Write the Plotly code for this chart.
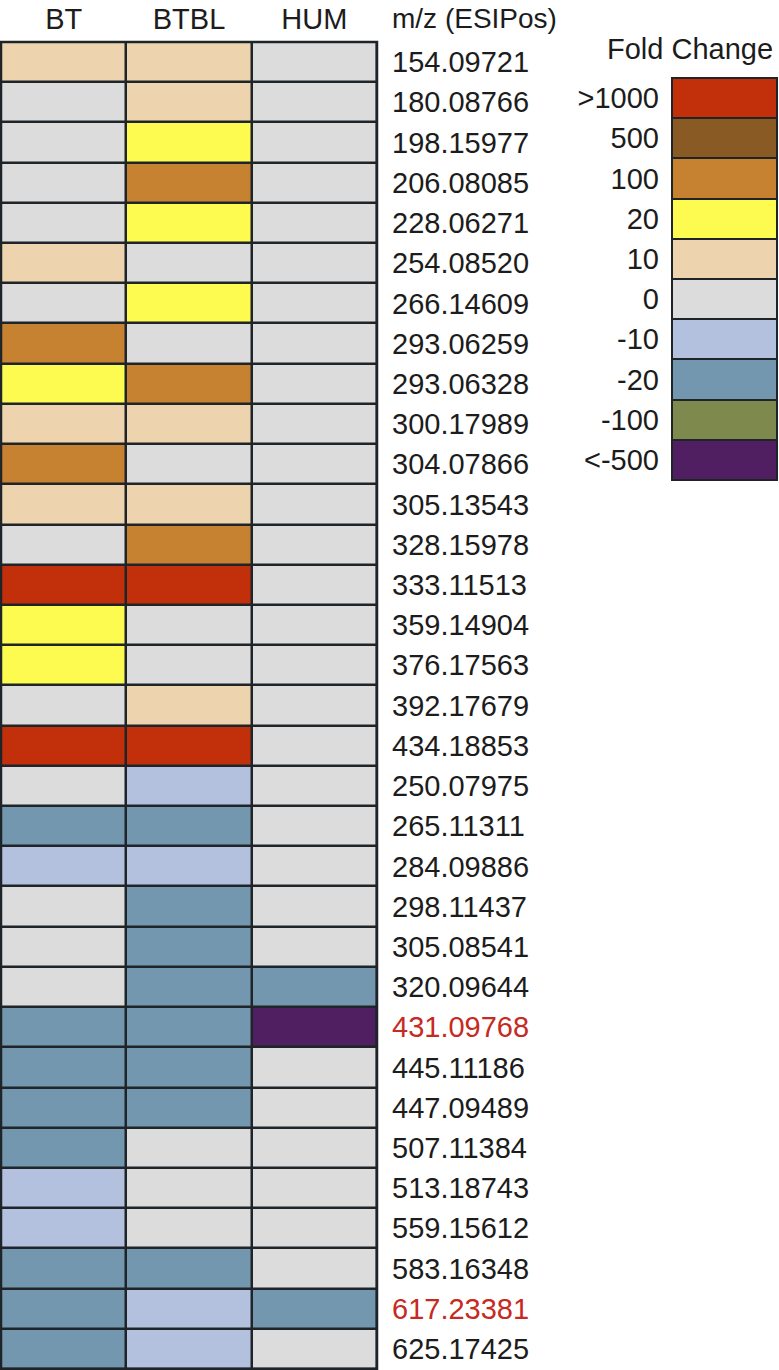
import plotly.graph_objects as go

W, H = 779, 1370

columns = ["BT", "BTBL", "HUM"]

mz_labels = [
    "154.09721", "180.08766", "198.15977", "206.08085", "228.06271", "254.08520",
    "266.14609", "293.06259", "293.06328", "300.17989", "304.07866", "305.13543",
    "328.15978", "333.11513", "359.14904", "376.17563", "392.17679", "434.18853",
    "250.07975", "265.11311", "284.09886", "298.11437", "305.08541", "320.09644",
    "431.09768", "445.11186", "447.09489", "507.11384", "513.18743", "559.15612",
    "583.16348", "617.23381", "625.17425",
]
highlighted = ["431.09768", "617.23381"]

bt = ["10", "0", "0", "0", "0", "10", "0", "100", "20", "10", "100", "10",
      "0", ">1000", "20", "20", "0", ">1000", "0", "-20", "-10", "0", "0", "0",
      "-20", "-20", "-20", "-20", "-10", "-10", "-20", "-20", "-20"]
btbl = ["10", "10", "20", "100", "20", "0", "20", "0", "100", "10", "0", "10",
        "100", ">1000", "0", "0", "10", ">1000", "-10", "-20", "-10", "-20", "-20", "-20",
        "-20", "-20", "-20", "0", "0", "0", "-20", "-10", "-10"]
hum = ["0", "0", "0", "0", "0", "0", "0", "0", "0", "0", "0", "0",
       "0", "0", "0", "0", "0", "0", "0", "0", "0", "0", "0", "-20",
       "<-500", "0", "0", "0", "0", "0", "0", "-20", "0"]

fold_labels = [">1000", "500", "100", "20", "10", "0", "-10", "-20", "-100", "<-500"]
fold_colors = ["#c1300b", "#8a5a25", "#c68131", "#fdfa50", "#edd4ae", "#dcdcdc",
               "#b3c1df", "#7397ae", "#7e8a4d", "#4f1f61"]

# discrete colour scale, one band per fold-change class
n = len(fold_labels)
cscale = []
for i, c in enumerate(fold_colors):
    cscale.append([i / n, c])
    cscale.append([(i + 1) / n, c])

idx = {lab: i for i, lab in enumerate(fold_labels)}
z = [[idx[a], idx[b], idx[c]] for a, b, c in zip(bt, btbl, hum)]

row_ticks = [f"<span style='color:#c62a22'>{m}</span>" if m in highlighted else m
             for m in mz_labels]

font = "Liberation Sans, Arial, Helvetica, sans-serif"
ink = "#1c1c1c"
grid = "#1e2428"
fs = 29

fig = go.Figure()

fig.add_trace(go.Heatmap(
    z=z, x=list(range(3)), y=list(range(len(mz_labels))),
    colorscale=cscale, zmin=-0.5, zmax=n - 0.5, showscale=False,
    xgap=2.5, ygap=2.5, hoverinfo="skip",
))

fig.add_trace(go.Heatmap(
    z=[[i] for i in range(n)], x=[0], y=list(range(n)),
    colorscale=cscale, zmin=-0.5, zmax=n - 0.5, showscale=False,
    xgap=0, ygap=2, hoverinfo="skip", xaxis="x2", yaxis="y2",
))

fig.update_layout(
    width=W, height=H,
    margin=dict(l=0, r=0, t=0, b=0),
    paper_bgcolor="white",
    plot_bgcolor=grid,
    font=dict(family=font, color=ink, size=fs),
    xaxis=dict(
        domain=[1 / W, 377 / W], side="top",
        tickvals=list(range(3)), ticktext=columns,
        showgrid=False, zeroline=False, ticks="", ticklabelstandoff=6,
        tickfont=dict(size=fs),
    ),
    yaxis=dict(
        domain=[1 - 1369 / H, 1 - 42 / H], autorange="reversed", side="right",
        tickvals=list(range(len(mz_labels))), ticktext=row_ticks,
        showgrid=False, zeroline=False, ticks="", ticklabelstandoff=14,
        tickfont=dict(size=fs),
    ),
    xaxis2=dict(
        domain=[672 / W, 777 / W], anchor="y2",
        showticklabels=False, showgrid=False, zeroline=False, ticks="",
    ),
    yaxis2=dict(
        domain=[1 - 480 / H, 1 - 78 / H], anchor="x2", autorange="reversed",
        tickvals=list(range(n)), ticktext=fold_labels,
        showgrid=False, zeroline=False, ticks="", ticklabelstandoff=12,
        tickfont=dict(size=fs),
    ),
    shapes=[
        dict(type="rect", xref="x domain", yref="y domain", x0=0, x1=1, y0=0, y1=1,
             line=dict(color=grid, width=2.5)),
        dict(type="rect", xref="x2 domain", yref="y2 domain", x0=0, x1=1, y0=0, y1=1,
             line=dict(color=grid, width=2)),
    ],
    annotations=[
        dict(text="m/z (ESIPos)", xref="paper", yref="paper", x=390 / W, y=1 - 18 / H,
             xanchor="left", yanchor="middle", showarrow=False, font=dict(size=28)),
        dict(text="Fold Change", xref="paper", yref="paper", x=690 / W, y=1 - 49 / H,
             xanchor="center", yanchor="middle", showarrow=False, font=dict(size=fs)),
    ],
)

# the page body has a default 8px margin; drop it so the figure sits at 0,0
fig.write_html("out.html", config={"displayModeBar": False},
               post_script="document.body.style.margin='0';")
